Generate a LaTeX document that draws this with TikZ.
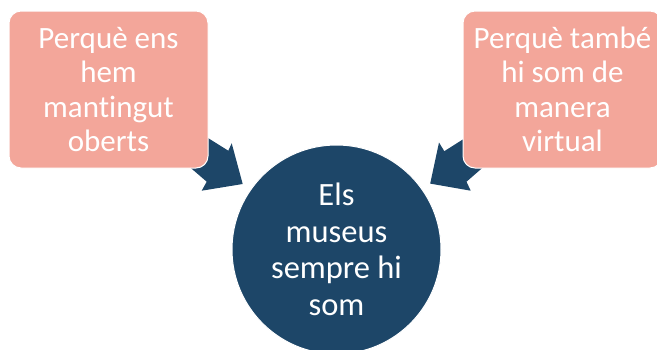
\documentclass[tikz,border=0pt]{standalone}
\usepackage{fontspec}
\setmainfont{Carlito}[Ligatures={NoCommon,NoRare,NoDiscretionary}]
\definecolor{salmon}{HTML}{F3A69A}
\definecolor{navy}{HTML}{1D4668}
\begin{document}
\begin{tikzpicture}[x=1pt,y=-1pt,
  reasonbox/.style={fill=salmon, draw=white, line width=1pt, rounded corners=12pt,
    minimum width=199pt, minimum height=157pt, inner sep=0pt, align=center,
    text=white, font=\fontsize{31}{34.5}\selectfont},
  hub/.style={circle, fill=navy, draw=white, line width=1pt, minimum size=209pt,
    inner sep=0pt, align=center, text=white, font=\fontsize{32.5}{36.5}\selectfont},
  blockarrow/.style={fill=navy, draw=none}]
\useasboundingbox (0,0) rectangle (657,349);
\clip (0,0) rectangle (657,349);
% arrows (drawn first, partly hidden by boxes)
\coordinate (la1) at (200,133);
\coordinate (la2) at (228.3,150.7);
\coordinate (la3) at (231.7,143.3);
\coordinate (latip) at (242.7,184);
\coordinate (la5) at (201.7,190.7);
\coordinate (la6) at (206.7,181.7);
\coordinate (la7) at (185,163);
\fill[blockarrow] (la1) -- (la2) -- (la3) -- (latip) -- (la5) -- (la6) -- (la7) -- cycle;
\coordinate (ra1) at (473,133);
\coordinate (ra2) at (444.3,151.2);
\coordinate (ra3) at (439,142.5);
\coordinate (ratip) at (430.2,183.6);
\coordinate (ra5) at (470.7,190.7);
\coordinate (ra6) at (466.5,181.7);
\coordinate (ra7) at (488,163);
\fill[blockarrow] (ra1) -- (ra2) -- (ra3) -- (ratip) -- (ra5) -- (ra6) -- (ra7) -- cycle;
% boxes
\node[reasonbox] (left) at (108.5,89.5) {Perquè ens\\hem\\mantingut\\oberts};
\node[reasonbox] (right) at (562.5,89.5) {Perquè també\\hi som de\\manera\\virtual};
% hub
\node[hub] (hubc) at (336.5,249.5) {Els\\museus\\sempre hi\\som};
\end{tikzpicture}
\end{document}
